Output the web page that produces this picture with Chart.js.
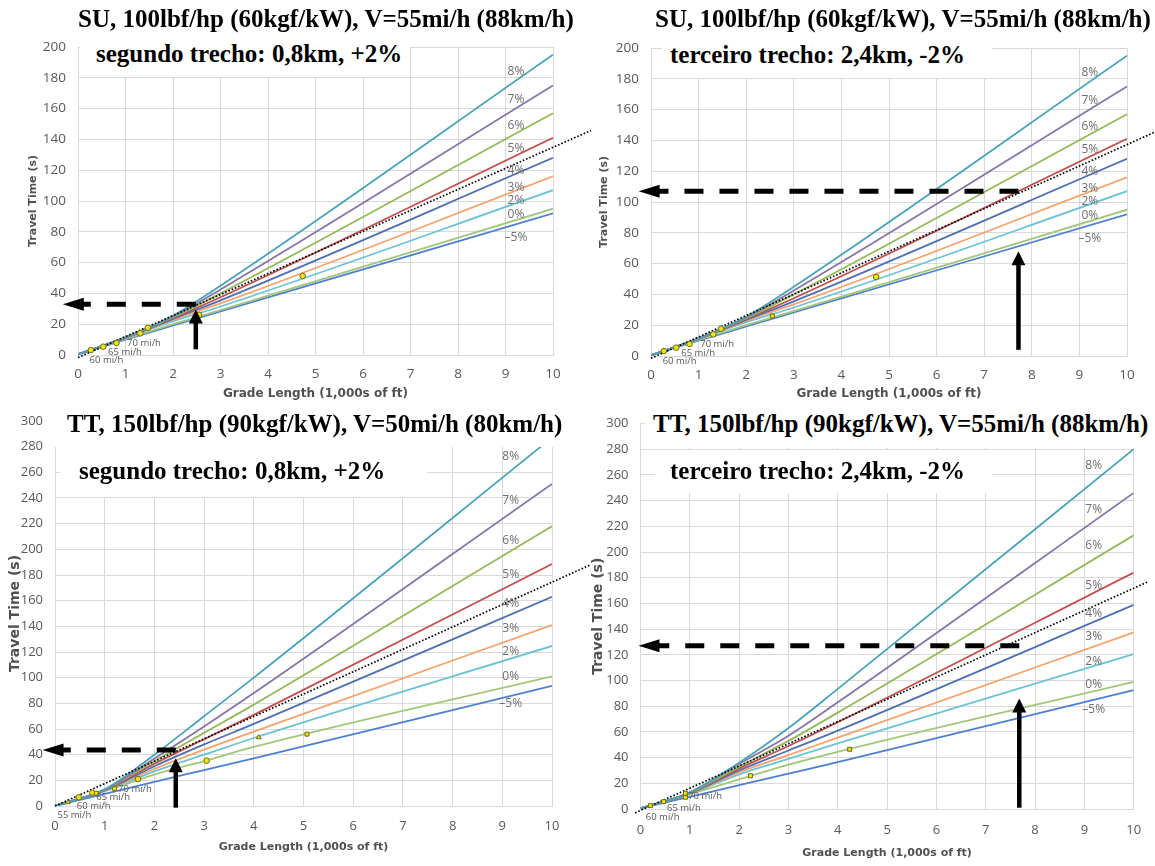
<!DOCTYPE html>
<html lang="pt">
<head>
<meta charset="UTF-8">
<title>Travel Time x Grade Length</title>
<script src="https://cdn.jsdelivr.net/npm/chart.js"></script>
<style>
  body { margin: 0; background: #fff; width: 1155px; height: 866px; position: relative; overflow: hidden; }
  canvas { position: absolute; }
  .title, .sub {
    position: absolute; font-family: 'Liberation Serif', 'Times New Roman', serif;
    font-weight: bold; font-size: 25px; line-height: 25px; white-space: nowrap; color: #000;
  }
  .box { position: absolute; background: #fff; }
</style>
</head>
<body>
<canvas id="c1" width="600" height="410" style="left:0;top:0"></canvas>
<canvas id="c2" width="575" height="410" style="left:580px;top:0"></canvas>
<canvas id="c3" width="600" height="466" style="left:0;top:400px"></canvas>
<canvas id="c4" width="575" height="466" style="left:580px;top:400px"></canvas>

<div class="title" style="left:78px;top:6px">SU, 100lbf/hp (60kgf/kW), V=55mi/h (88km/h)</div>
<div class="box" style="left:80px;top:38px;width:330px;height:39px"></div>
<div class="sub" style="left:96px;top:41px">segundo trecho: 0,8km, +2%</div>

<div class="title" style="left:655px;top:6px">SU, 100lbf/hp (60kgf/kW), V=55mi/h (88km/h)</div>
<div class="box" style="left:662px;top:38px;width:330px;height:40px"></div>
<div class="sub" style="left:670px;top:42px">terceiro trecho: 2,4km, -2%</div>

<div class="box" style="left:50px;top:404px;width:510px;height:43px"></div>
<div class="title" style="left:67px;top:411px">TT, 150lbf/hp (90kgf/kW), V=50mi/h (80km/h)</div>
<div class="box" style="left:60px;top:445px;width:367px;height:52px"></div>
<div class="sub" style="left:79px;top:458px">segundo trecho: 0,8km, +2%</div>

<div class="box" style="left:645px;top:404px;width:505px;height:44px"></div>
<div class="title" style="left:653px;top:411px">TT, 150lbf/hp (90kgf/kW), V=55mi/h (88km/h)</div>
<div class="box" style="left:655px;top:450px;width:337px;height:43px"></div>
<div class="sub" style="left:670px;top:458px">terceiro trecho: 2,4km, -2%</div>

<script>
// curves: travel time (s) against grade length (1,000s of ft)
const grades = ['8%', '7%', '6%', '5%', '4%', '3%', '2%', '0%', '–5%'];
const gradeColors = ['#4ba3b8', '#8774a8', '#94b85a', '#c0504d', '#4f6fb3', '#f6a26a', '#6dc3d5', '#a2c77a', '#4e7fd0'];

// SU, 55 mi/h (both top charts)
const suLength = [0, 1, 2, 3, 10];
const suTime = [
  [0.5, 11.5, 25.5, 45, 195],
  [0.5, 11.4, 25, 42.5, 175],
  [0.5, 11.3, 24.5, 40, 157],
  [0.5, 11.2, 24, 37.5, 141],
  [0.5, 11.1, 23.5, 35.5, 128],
  [0.5, 11, 23, 33.5, 116],
  [0.5, 10.9, 22, 31.5, 107],
  [0.5, 10.4, 20, 29.2, 95],
  [0.5, 10, 19.2, 28.3, 92]
];
const suLabelX = 9.22;
const suLabelY = [184, 166, 149, 134, 120, 109, 100, 91, 76];
const suMarkX = [0.27, 0.53, 0.81, 1.31, 1.47, 2.55, 4.73];
const suMarkY = [3.2, 5.4, 7.8, 14.1, 17.7, 26, 51.3];
const suSpeed = ['60 mi/h', '65 mi/h', '70 mi/h'];
const suSpeedX = [0.6, 0.99, 1.39];
const suSpeedY = [-3.6, 1.5, 7.3];
const su1DotX = [0, 10.8], su1DotY = [-1.7, 145.8];
const su2DotX = [0, 10.6], su2DotY = [-1.5, 145.6];

// TT, 50 mi/h (bottom left)
const tt50Length = [0, 1, 2, 3, 4, 10];
const tt50Time = [
  [0, 13, 40, 70, 100, 287],
  [0, 12.8, 37, 62, 88, 251],
  [0, 12.6, 35, 57, 79, 218],
  [0, 12.4, 33, 52, 71, 188.6],
  [0, 12.2, 31, 48, 64, 163],
  [0, 12, 29, 44, 58, 141],
  [0, 11.8, 27, 40, 53, 124.7],
  [0, 11.5, 24.5, 35, 46, 101],
  [0, 9.5, 18.8, 28, 37.2, 93.6]
];
const tt50LabelX = 9.17;
const tt50LabelY = [272, 238, 207, 180, 158, 138, 120, 101, 80];
const tt50MarkX = [0.26, 0.48, 0.75, 0.83, 1.2, 1.67, 3.05, 4.1, 5.07];
const tt50MarkY = [2.9, 6.8, 10.4, 9.9, 13.5, 21, 35.3, 53.5, 56];
const tt50Speed = ['55 mi/h', '60 mi/h', '65 mi/h', '70 mi/h'];
const tt50SpeedX = [0.39, 0.78, 1.17, 1.61];
const tt50SpeedY = [-7, 0, 6.8, 13.4];
const tt50DotX = [0, 10.78], tt50DotY = [0, 188];

// TT, 55 mi/h (bottom right)
const tt55Length = [0, 1, 2, 3, 4, 10];
const tt55Time = [
  [0.5, 13, 36, 63, 93.5, 280],
  [0.5, 12.8, 35, 57, 83, 246],
  [0.5, 12.6, 33, 53, 75, 213],
  [0.5, 12.4, 31.5, 49, 67.5, 184],
  [0.5, 12.2, 30, 45.5, 61, 158.8],
  [0.5, 12, 28.5, 42, 55.5, 137.5],
  [0.5, 11.8, 27, 39, 51, 120.6],
  [0.5, 11.5, 23, 34.5, 44.5, 99],
  [0.5, 9.5, 18.5, 27.5, 36.5, 92.6]
];
const tt55LabelX = 9.19;
const tt55LabelY = [267, 233, 205, 174, 152, 134, 115, 96.5, 77.6];
const tt55MarkX = [0.2, 0.47, 0.91, 0.91, 2.23, 4.24];
const tt55MarkY = [2.6, 5.7, 9.1, 12.2, 25.9, 46.5];
const tt55Speed = ['60 mi/h', '65 mi/h', '70 mi/h'];
const tt55SpeedX = [0.45, 0.88, 1.31];
const tt55SpeedY = [-6.8, 0.8, 9.6];
const tt55DotX = [-0.11, 10.3], tt55DotY = [-3, 177];

// reading arrows, one entry per chart (top left, top right, bottom left, bottom right)
const arrowX = [2.48, 7.72, 2.43, 7.68];
const arrowY = [33, 107, 43.6, 127];
const arrowFoot = [3.7, 4, -1.3, 1];
const arrowHead = [29.5, 68, 37.3, 86];
const dashTip = [-0.32, -0.26, -0.25, -0.04];

const pts = (xs, ys) => xs.map((v, i) => ({ x: v, y: ys[i] }));

const overlay = {
  id: 'overlay',
  afterDatasetsDraw(chart, args, o) {
    const { ctx, scales: { x, y } } = chart;
    ctx.save();
    ctx.textAlign = 'center';
    ctx.textBaseline = 'middle';
    ctx.font = '12px "Open Sans"';
    ctx.fillStyle = '#6f6f6f';
    o.labelY.forEach((v, i) => ctx.fillText(grades[i], x.getPixelForValue(o.labelX), y.getPixelForValue(v)));
    ctx.font = '9.5px "Open Sans"';
    ctx.fillStyle = '#595959';
    o.speed.forEach((t, i) => ctx.fillText(t, x.getPixelForValue(o.speedX[i]), y.getPixelForValue(o.speedY[i])));

    const k = o.panel;
    const ax = x.getPixelForValue(arrowX[k]);
    const ay = y.getPixelForValue(arrowY[k]);
    const tip = x.getPixelForValue(dashTip[k]);
    ctx.fillStyle = '#000';
    ctx.strokeStyle = '#000';
    // dashed horizontal arrow
    ctx.lineWidth = 5;
    ctx.setLineDash([19, 16]);
    ctx.beginPath();
    ctx.moveTo(ax, ay);
    ctx.lineTo(tip + 20, ay);
    ctx.stroke();
    ctx.setLineDash([]);
    ctx.beginPath();
    ctx.moveTo(tip, ay);
    ctx.lineTo(tip + 21, ay - 6.5);
    ctx.lineTo(tip + 21, ay + 6.5);
    ctx.closePath();
    ctx.fill();
    // solid vertical arrow
    const foot = y.getPixelForValue(arrowFoot[k]);
    const head = y.getPixelForValue(arrowHead[k]);
    ctx.lineWidth = 4.5;
    ctx.beginPath();
    ctx.moveTo(ax, foot);
    ctx.lineTo(ax, head + 12);
    ctx.stroke();
    ctx.beginPath();
    ctx.moveTo(ax, head);
    ctx.lineTo(ax - 7, head + 14);
    ctx.lineTo(ax + 7, head + 14);
    ctx.closePath();
    ctx.fill();
    ctx.restore();
  }
};

function makeChart(id, p) {
  const lines = p.time.map((row, i) => ({
    data: pts(p.length, row),
    borderColor: gradeColors[i],
    borderWidth: 1.8,
    pointRadius: 0,
    cubicInterpolationMode: 'monotone',
    fill: false
  }));
  const marks = {
    type: 'scatter',
    data: pts(p.markX, p.markY),
    pointStyle: p.markStyle,
    pointRadius: 2.8,
    pointBackgroundColor: '#f2e400',
    pointBorderColor: '#6b6b1f',
    pointBorderWidth: 1,
    showLine: false
  };
  const dotted = {
    data: pts(p.dotX, p.dotY),
    borderColor: '#000',
    borderWidth: 1.7,
    borderDash: [1.6, 1.9],
    pointRadius: 0,
    clip: false
  };
  return new Chart(document.getElementById(id), {
    type: 'line',
    data: { datasets: [marks, dotted, ...lines] },
    options: {
      responsive: false,
      animation: false,
      events: [],
      layout: { padding: { left: 0, top: p.padTop, right: p.padRight, bottom: 0 } },
      plugins: {
        legend: { display: false },
        tooltip: { enabled: false },
        overlay: {
          panel: p.panel, labelX: p.labelX, labelY: p.labelY,
          speed: p.speed, speedX: p.speedX, speedY: p.speedY
        }
      },
      scales: {
        x: {
          type: 'linear', min: 0, max: 10,
          afterFit: s => { s.height = p.xHeight; },
          grid: { color: '#d9d9d9', drawTicks: false },
          border: { color: '#d9d9d9' },
          ticks: { stepSize: 1, padding: p.xTickPad, color: '#595959', font: { family: 'Open Sans', size: p.tickSize } },
          title: {
            display: true, text: 'Grade Length (1,000s of ft)', color: '#505050',
            font: { family: 'DejaVu Sans', size: p.xTitleSize, weight: 'bold' },
            padding: { top: 0, bottom: p.xTitlePad }
          }
        },
        y: {
          min: 0, max: p.yMax,
          afterFit: s => { s.width = p.yWidth; },
          grid: { color: '#d9d9d9', drawTicks: false },
          border: { color: '#d9d9d9' },
          ticks: { stepSize: 20, padding: 12, color: '#595959', font: { family: 'Open Sans', size: p.tickSize } },
          title: {
            display: true, text: 'Travel Time (s)', color: '#505050',
            font: { family: 'DejaVu Sans', size: p.yTitleSize, weight: 'bold' },
            padding: { top: p.yTitlePad, bottom: 0 }
          }
        }
      }
    },
    plugins: [overlay]
  });
}

makeChart('c1', {
  panel: 0, length: suLength, time: suTime, labelX: suLabelX, labelY: suLabelY,
  markX: suMarkX, markY: suMarkY, markStyle: 'circle',
  speed: suSpeed, speedX: suSpeedX, speedY: suSpeedY, dotX: su1DotX, dotY: su1DotY,
  yMax: 200, padTop: 47, padRight: 47, yWidth: 78, xHeight: 55, xTickPad: 11, tickSize: 13.5,
  xTitleSize: 12, xTitlePad: 8.8, yTitleSize: 11, yTitlePad: 26.4
});
makeChart('c2', {
  panel: 1, length: suLength, time: suTime, labelX: suLabelX, labelY: suLabelY,
  markX: suMarkX, markY: suMarkY, markStyle: ['circle', 'circle', 'circle', 'circle', 'circle', 'rect', 'circle'],
  speed: suSpeed, speedX: suSpeedX, speedY: suSpeedY, dotX: su2DotX, dotY: su2DotY,
  yMax: 200, padTop: 48, padRight: 28, yWidth: 71, xHeight: 54, xTickPad: 11, tickSize: 13.5,
  xTitleSize: 12, xTitlePad: 8.5, yTitleSize: 11, yTitlePad: 17.2
});
makeChart('c3', {
  panel: 2, length: tt50Length, time: tt50Time, labelX: tt50LabelX, labelY: tt50LabelY,
  markX: tt50MarkX, markY: tt50MarkY,
  markStyle: ['triangle', 'circle', 'circle', 'rect', 'rect', 'circle', 'circle', 'triangle', 'rect'],
  speed: tt50Speed, speedX: tt50SpeedX, speedY: tt50SpeedY, dotX: tt50DotX, dotY: tt50DotY,
  yMax: 300, padTop: 21, padRight: 48, yWidth: 55, xHeight: 60, xTickPad: 12, tickSize: 13,
  xTitleSize: 11, xTitlePad: 12.4, yTitleSize: 14, yTitlePad: 6.6
});
makeChart('c4', {
  panel: 3, length: tt55Length, time: tt55Time, labelX: tt55LabelX, labelY: tt55LabelY,
  markX: tt55MarkX, markY: tt55MarkY, markStyle: 'rect',
  speed: tt55Speed, speedX: tt55SpeedX, speedY: tt55SpeedY, dotX: tt55DotX, dotY: tt55DotY,
  yMax: 300, padTop: 23.5, padRight: 21.3, yWidth: 60.5, xHeight: 57, xTickPad: 13.5, tickSize: 13,
  xTitleSize: 11, xTitlePad: 6.4, yTitleSize: 14, yTitlePad: 9.6
});
</script>
</body>
</html>
